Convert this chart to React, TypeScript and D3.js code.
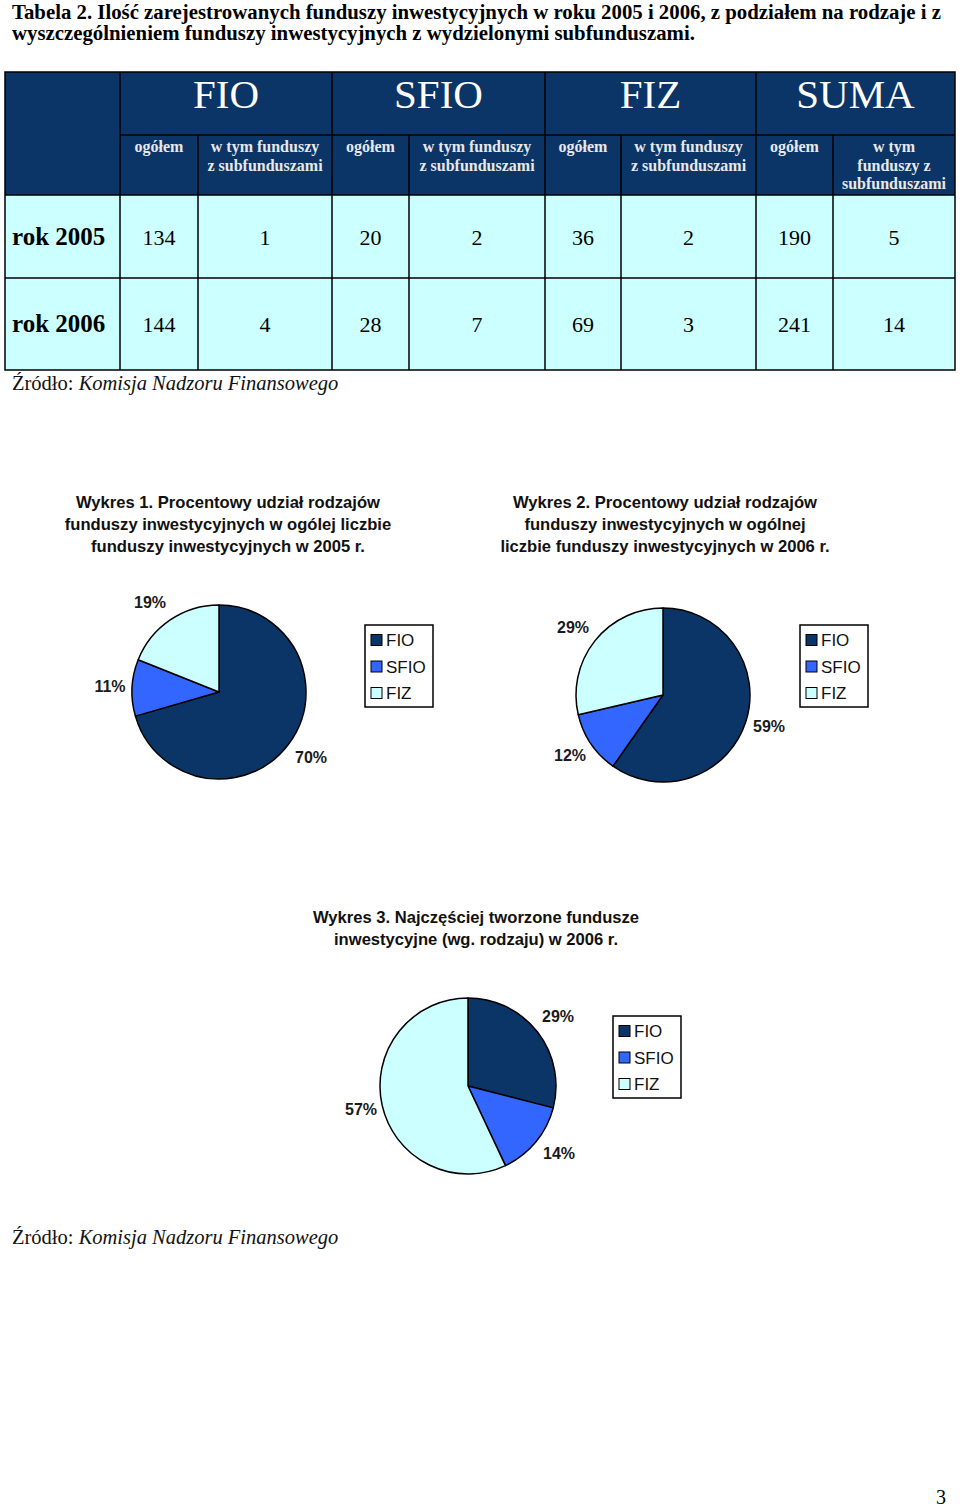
import React from 'react';
import * as d3 from 'd3';

const titleLines = [
  'Tabela 2. Ilość zarejestrowanych funduszy inwestycyjnych w roku 2005 i 2006, z podziałem na rodzaje i z',
  'wyszczególnieniem funduszy inwestycyjnych z wydzielonymi subfunduszami.',
];
const groups = ['FIO', 'SFIO', 'FIZ', 'SUMA'];
const subHeadTotal = ['ogółem'];
const subHeadSub = [['w tym funduszy', 'z subfunduszami']];
const subHeadSumaSub = ['w tym', 'funduszy z', 'subfunduszami'];
const years = ['rok 2005', 'rok 2006'];
// order: FIO ogółem, FIO sub, SFIO ogółem, SFIO sub, FIZ ogółem, FIZ sub, SUMA ogółem, SUMA sub
const row2005 = [134, 1, 20, 2, 36, 2, 190, 5];
const row2006 = [144, 4, 28, 7, 69, 3, 241, 14];
const rows = [row2005, row2006];

const categories = ['FIO', 'SFIO', 'FIZ'];
const pie1Values = [134, 20, 36];
const pie1Labels = ['70%', '11%', '19%'];
const pie2Values = [144, 28, 69];
const pie2Labels = ['59%', '12%', '29%'];
const pie3Values = [29, 14, 57];
const pie3Labels = ['29%', '14%', '57%'];

const chart1Title = ['Wykres 1. Procentowy udział rodzajów', 'funduszy inwestycyjnych w ogólej liczbie', 'funduszy inwestycyjnych w 2005 r.'];
const chart2Title = ['Wykres 2. Procentowy udział rodzajów', 'funduszy inwestycyjnych w ogólnej', 'liczbie funduszy inwestycyjnych w 2006 r.'];
const chart3Title = ['Wykres 3. Najczęściej tworzone fundusze', 'inwestycyjne (wg. rodzaju) w 2006 r.'];

const NAVY = '#0b3467';
const CELL = '#ccffff';
const colors = d3.scaleOrdinal<string, string>().domain(categories).range(['#0b3467', '#3366ff', '#ccffff']);

const SERIF = '"Liberation Serif", "Times New Roman", serif';
const SANS = '"Liberation Sans", Arial, sans-serif';

const colX = [5, 120, 198, 332, 409, 545, 621, 756, 833, 955];
const rowY = [72, 135, 195, 278, 370];

function Pie({ cx, cy, r, values, labels, labelPos }: { cx: number; cy: number; r: number; values: number[]; labels: string[]; labelPos: [number, number][] }) {
  const pie = d3.pie<number>().sort(null).value((d) => d)(values);
  const arc = d3.arc<d3.PieArcDatum<number>>().innerRadius(0).outerRadius(r);
  return (
    <g>
      <g transform={`translate(${cx},${cy})`}>
        {pie.map((p, i) => (
          <path key={i} d={arc(p) || ''} fill={colors(categories[i])} stroke="#000" strokeWidth={1.5} strokeLinejoin="round" />
        ))}
      </g>
      {labels.map((l, i) => (
        <text key={i} x={labelPos[i][0]} y={labelPos[i][1]} textAnchor="middle" fontFamily={SANS} fontWeight="bold" fontSize={16} fill="#1a1a1a">
          {l}
        </text>
      ))}
    </g>
  );
}

function Legend({ x, y }: { x: number; y: number }) {
  return (
    <g transform={`translate(${x},${y})`}>
      <rect x={0} y={0} width={68} height={82} fill="#fff" stroke="#000" strokeWidth={1.5} />
      {categories.map((c, i) => (
        <g key={c} transform={`translate(6,${15 + i * 26.5})`}>
          <rect x={0} y={-5.5} width={11} height={11} fill={colors(c)} stroke="#000" strokeWidth={1} />
          <text x={15} y={6} fontFamily={SANS} fontSize={17} fill="#111">{c}</text>
        </g>
      ))}
    </g>
  );
}

export default function App() {
  const cells: JSX.Element[] = [];
  cells.push(<rect key="hbg" x={colX[0]} y={rowY[0]} width={colX[9] - colX[0]} height={rowY[2] - rowY[0]} fill={NAVY} />);
  cells.push(<rect key="bbg" x={colX[0]} y={rowY[2]} width={colX[9] - colX[0]} height={rowY[4] - rowY[2]} fill={CELL} />);

  const lines: JSX.Element[] = [];
  const sw = 1.5;
  lines.push(<rect key="outer" x={colX[0]} y={rowY[0]} width={colX[9] - colX[0]} height={rowY[4] - rowY[0]} fill="none" stroke="#000" strokeWidth={sw} />);
  lines.push(<line key="h1" x1={colX[1]} x2={colX[9]} y1={rowY[1]} y2={rowY[1]} stroke="#000" strokeWidth={sw} />);
  lines.push(<line key="h2" x1={colX[0]} x2={colX[9]} y1={rowY[2]} y2={rowY[2]} stroke="#000" strokeWidth={sw} />);
  lines.push(<line key="h3" x1={colX[0]} x2={colX[9]} y1={rowY[3]} y2={rowY[3]} stroke="#000" strokeWidth={sw} />);
  colX.slice(1, 9).forEach((x, i) => {
    const top = i % 2 === 0 ? rowY[0] : rowY[1];
    lines.push(<line key={'v' + i} x1={x} x2={x} y1={top} y2={rowY[4]} stroke="#000" strokeWidth={sw} />);
  });

  const texts: JSX.Element[] = [];
  groups.forEach((g, gi) => {
    const x0 = colX[1 + gi * 2];
    const x1 = colX[3 + gi * 2];
    texts.push(
      <text key={'g' + g} x={(x0 + x1) / 2} y={108} textAnchor="middle" fontFamily={SERIF} fontSize={41} fill="#fff">
        {g}
      </text>
    );
    const c0 = (colX[1 + gi * 2] + colX[2 + gi * 2]) / 2;
    const c1 = (colX[2 + gi * 2] + colX[3 + gi * 2]) / 2;
    texts.push(
      <text key={'o' + g} x={c0} y={152} textAnchor="middle" fontFamily={SERIF} fontWeight="bold" fontSize={16} fill="#e8e8e8">
        {subHeadTotal[0]}
      </text>
    );
    const sub = gi === 3 ? subHeadSumaSub : subHeadSub[0];
    sub.forEach((s, si) => {
      texts.push(
        <text key={'s' + g + si} x={c1} y={152 + si * 18.5} textAnchor="middle" fontFamily={SERIF} fontWeight="bold" fontSize={16} fill="#e8e8e8">
          {s}
        </text>
      );
    });
  });
  rows.forEach((r, ri) => {
    const cy = (rowY[2 + ri] + rowY[3 + ri]) / 2;
    texts.push(
      <text key={'y' + ri} x={12} y={cy + 8} fontFamily={SERIF} fontWeight="bold" fontSize={25} fill="#000">
        {years[ri]}
      </text>
    );
    r.forEach((v, vi) => {
      texts.push(
        <text key={'n' + ri + vi} x={(colX[1 + vi] + colX[2 + vi]) / 2} y={cy + 8} textAnchor="middle" fontFamily={SERIF} fontSize={22} fill="#000">
          {v}
        </text>
      );
    });
  });

  const source = (y: number) => (
    <text x={12} y={y} fontFamily={SERIF} fontSize={20.5} fill="#111">
      Źródło: <tspan fontStyle="italic">Komisja Nadzoru Finansowego</tspan>
    </text>
  );

  const titleBlock = (lns: string[], cx: number, y0: number, key: string) =>
    lns.map((l, i) => (
      <text key={key + i} x={cx} y={y0 + i * 22} textAnchor="middle" fontFamily={SANS} fontWeight="bold" fontSize={16.6} fill="#111">
        {l}
      </text>
    ));

  return (
    <svg width={960} height={1510} style={{ position: 'absolute', left: 0, top: 0, background: '#fff' }}>
      <rect x={0} y={0} width={960} height={1510} fill="#fff" />
      {titleLines.map((l, i) => (
        <text key={'t' + i} x={12} y={19 + i * 21} fontFamily={SERIF} fontWeight="bold" fontSize={20.8} fill="#000">
          {l}
        </text>
      ))}
      {cells}
      {texts}
      {lines}
      {source(390)}

      {titleBlock(chart1Title, 228, 508, 'c1')}
      {titleBlock(chart2Title, 665, 508, 'c2')}
      <Pie cx={219} cy={692} r={87} values={pie1Values} labels={pie1Labels} labelPos={[[311, 763], [110, 692], [150, 608]]} />
      <Legend x={365} y={625} />
      <Pie cx={663} cy={695} r={87} values={pie2Values} labels={pie2Labels} labelPos={[[769, 732], [570, 761], [573, 633]]} />
      <Legend x={800} y={625} />

      {titleBlock(chart3Title, 476, 923, 'c3')}
      <Pie cx={468} cy={1086} r={88} values={pie3Values} labels={pie3Labels} labelPos={[[558, 1022], [559, 1159], [361, 1115]]} />
      <Legend x={613} y={1016} />

      {source(1244)}
      <text x={941} y={1504} textAnchor="middle" fontFamily={SERIF} fontSize={20} fill="#000">3</text>
    </svg>
  );
}
